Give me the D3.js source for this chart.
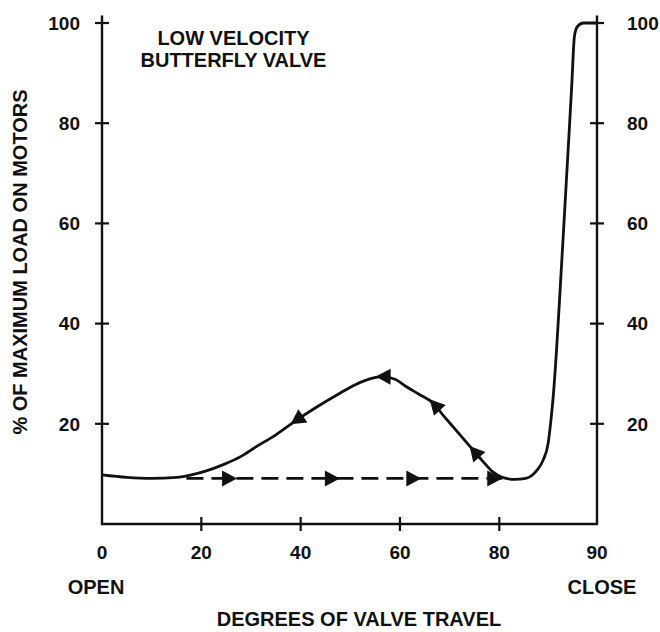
<!DOCTYPE html>
<html><head><meta charset="utf-8">
<script src="https://cdn.jsdelivr.net/npm/d3@7"></script>
<style>
body{margin:0;background:#fff}
svg{display:block}
text{font-family:"Liberation Sans",Arial,Helvetica,sans-serif;font-weight:bold;fill:#111}
</style>
</head><body>
<svg id="c" width="660" height="632"></svg>
<script>
// ---- data ----
const curveX = [0, 5, 10, 15, 18, 21, 24.3, 28, 31, 35, 38.4, 43, 47.9, 51, 54.5, 56.5, 59, 61.3, 64, 66.7, 68.7, 70.7, 72.7, 74.7, 76.7, 78.7, 80.3, 81.6, 82.7, 83.8, 84.5, 85.0, 85.3, 85.5, 86.5, 87.4, 87.7, 88.0, 88.6, 90];
const curveY = [9.8, 9.3, 9.1, 9.3, 9.8, 10.6, 11.8, 13.5, 15.4, 17.8, 20.2, 23.2, 26.1, 27.8, 29.1, 29.4, 28.9, 27.4, 25.8, 24.1, 21.7, 19.4, 17.1, 14.8, 12.5, 10.4, 9.3, 8.9, 9.1, 10.6, 12.8, 16.1, 21, 25, 56, 87, 97.5, 99.3, 100, 100];
const dashX = [17, 80.3];
const dashY = [9.1, 9.1];
const curveArrowX = [39.2, 56.6, 67.0, 75.0];
const dashArrowX = [27.2, 47.9, 64.3, 80.3];
const xTicks = [0, 20, 40, 60, 80, 90];
const yTicks = [20, 40, 60, 80, 100];
const titleLines = ["LOW VELOCITY", "BUTTERFLY VALVE"];
const xEndLabels = ["OPEN", "CLOSE"];
const xTitle = "DEGREES OF VALVE TRAVEL";
const yTitle = "% OF MAXIMUM LOAD ON MOTORS";

// ---- scales ----
const svg = d3.select("#c");
const x = d3.scaleLinear().domain([0, 80, 90]).range([102, 499.3, 597]);
const y = d3.scaleLinear().domain([0, 100]).range([524, 23]);
const ink = "#111";

// frame
svg.append("path")
  .attr("d", `M${x(0)},${y(101.5)}V${y(0)}H${x(90)}V${y(101.5)}`)
  .attr("fill", "none").attr("stroke", ink).attr("stroke-width", 2.4);

// cross ticks
const tk = 7;
svg.selectAll(".ytl").data(yTicks).join("line")
  .attr("x1", x(0) - tk).attr("x2", x(0) + tk)
  .attr("y1", d => y(d)).attr("y2", d => y(d))
  .attr("stroke", ink).attr("stroke-width", 2.2);
svg.selectAll(".ytr").data(yTicks).join("line")
  .attr("x1", x(90) - tk).attr("x2", x(90) + tk)
  .attr("y1", d => y(d)).attr("y2", d => y(d))
  .attr("stroke", ink).attr("stroke-width", 2.2);
svg.selectAll(".xt").data(xTicks.filter(d => d > 0 && d < 90)).join("line")
  .attr("x1", d => x(d)).attr("x2", d => x(d))
  .attr("y1", y(0) - tk).attr("y2", y(0) + tk)
  .attr("stroke", ink).attr("stroke-width", 2.2);

// tick labels
svg.selectAll(".yll").data(yTicks).join("text")
  .attr("x", x(0) - 22).attr("y", d => y(d)).attr("dy", "0.36em")
  .attr("text-anchor", "end").attr("font-size", 19).text(d => d);
svg.selectAll(".ylr").data(yTicks).join("text")
  .attr("x", x(90) + 30).attr("y", d => y(d)).attr("dy", "0.36em")
  .attr("text-anchor", "start").attr("font-size", 19).text(d => d);
svg.selectAll(".xl").data(xTicks).join("text")
  .attr("x", d => x(d)).attr("y", 559)
  .attr("text-anchor", "middle").attr("font-size", 19).text(d => d);

// end labels
svg.append("text").attr("x", x(0) - 6).attr("y", 594).attr("text-anchor", "middle")
  .attr("font-size", 20).text(xEndLabels[0]);
svg.append("text").attr("x", x(90) + 5).attr("y", 594).attr("text-anchor", "middle")
  .attr("font-size", 20).text(xEndLabels[1]);

// axis titles
svg.append("text").attr("x", 359).attr("y", 626).attr("text-anchor", "middle")
  .attr("font-size", 20).text(xTitle);
svg.append("text").attr("transform", `translate(27,${262}) rotate(-90)`)
  .attr("text-anchor", "middle").attr("font-size", 20).text(yTitle);

// chart title
svg.selectAll(".tt").data(titleLines).join("text")
  .attr("x", 233.5).attr("y", (d, i) => 45 + i * 22)
  .attr("text-anchor", "middle").attr("font-size", 20).text(d => d);

// curve
const pts = curveX.map((d, i) => [d, curveY[i]]);
const line = d3.line().x(d => x(d[0])).y(d => y(d[1])).curve(d3.curveMonotoneX);
const cPath = svg.append("path").attr("d", line(pts))
  .attr("fill", "none").attr("stroke", ink).attr("stroke-width", 2.8)
  .attr("stroke-linejoin", "round");

// dashed line
const dpts = dashX.map((d, i) => [d, dashY[i]]);
svg.append("path").attr("d", d3.line().x(d => x(d[0])).y(d => y(d[1]))(dpts))
  .attr("fill", "none").attr("stroke", ink).attr("stroke-width", 2.8)
  .attr("stroke-dasharray", "17,8");

// arrow helper
function tri(cx, cy, dx, dy, len, hw) {
  const n = Math.hypot(dx, dy); dx /= n; dy /= n;
  const px = -dy, py = dx;
  const tx = cx + dx * len / 2, ty = cy + dy * len / 2;
  const bx = cx - dx * len / 2, by = cy - dy * len / 2;
  return `M${tx},${ty}L${bx + px * hw},${by + py * hw}L${bx - px * hw},${by - py * hw}Z`;
}
const node = cPath.node();
const total = node.getTotalLength();
function lenAtX(px) {
  let lo = 0, hi = total;
  for (let k = 0; k < 40; k++) {
    const mid = (lo + hi) / 2;
    if (node.getPointAtLength(mid).x < px) lo = mid; else hi = mid;
  }
  return (lo + hi) / 2;
}
svg.selectAll(".ca").data(curveArrowX).join("path")
  .attr("d", d => {
    const L = lenAtX(x(d));
    const p = node.getPointAtLength(L);
    const a = node.getPointAtLength(Math.min(total, L + 3));
    const b = node.getPointAtLength(Math.max(0, L - 3));
    return tri(p.x, p.y, b.x - a.x, b.y - a.y, 15, 8);
  })
  .attr("fill", ink);
svg.selectAll(".da").data(dashArrowX).join("path")
  .attr("d", d => tri(x(d) - 7.5, y(dashY[0]), 1, 0, 15, 8))
  .attr("fill", ink);
</script>
</body></html>
